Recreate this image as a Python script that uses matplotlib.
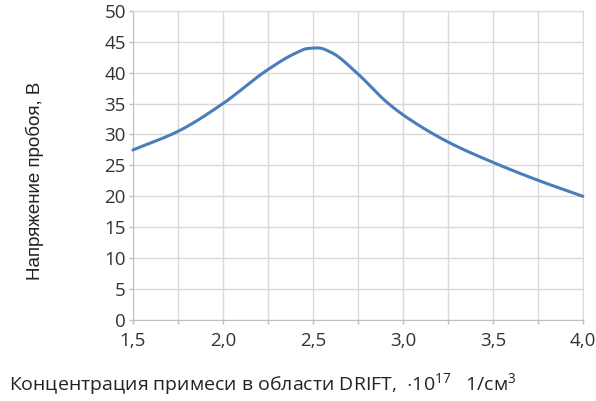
import matplotlib
matplotlib.use("Agg")
import matplotlib.pyplot as plt
from matplotlib.ticker import FuncFormatter, MultipleLocator
import numpy as np

conc = [1.5, 1.75, 2.0, 2.25, 2.4, 2.47, 2.53, 2.6, 2.75, 2.9, 3.0, 3.25, 3.5, 3.75, 4.0]
voltage = [27.5, 30.5, 35.0, 40.5, 43.1, 43.9, 44.0, 43.3, 39.8, 35.5, 33.2, 28.8, 25.5, 22.6, 20.0]
xticks = [1.5, 2.0, 2.5, 3.0, 3.5, 4.0]
yticks = list(range(0, 51, 5))

plt.rcParams['font.family'] = ['Open Sans', 'DejaVu Sans']
plt.rcParams['mathtext.fontset'] = 'custom'
plt.rcParams['mathtext.rm'] = 'Open Sans'
plt.rcParams['mathtext.it'] = 'Open Sans'

fig = plt.figure(figsize=(5.96, 4.01), dpi=100)
ax = fig.add_axes([0.223, 0.202, 0.755, 0.771])

xs = np.array(conc); ys = np.array(voltage)
def pchip(x, y, xn):
    h = np.diff(x); d = np.diff(y) / h
    m = np.zeros_like(y)
    for k in range(1, len(x) - 1):
        if d[k-1] * d[k] > 0:
            w1 = 2*h[k] + h[k-1]; w2 = h[k] + 2*h[k-1]
            m[k] = (w1 + w2) / (w1/d[k-1] + w2/d[k])
    m[0] = d[0]; m[-1] = d[-1]
    out = np.empty_like(xn)
    for i, xv in enumerate(xn):
        k = min(np.searchsorted(x, xv) - 1, len(x) - 2); k = max(k, 0)
        t = (xv - x[k]) / h[k]
        h00 = 2*t**3 - 3*t**2 + 1; h10 = t**3 - 2*t**2 + t
        h01 = -2*t**3 + 3*t**2; h11 = t**3 - t**2
        out[i] = h00*y[k] + h10*h[k]*m[k] + h01*y[k+1] + h11*h[k]*m[k+1]
    return out
xn = np.linspace(xs[0], xs[-1], 400)
ax.plot(xn, pchip(xs, ys, xn), color='#4a7ebb', lw=2.2, solid_capstyle='round', clip_on=False, zorder=3)

ax.set_xlim(1.5, 4.0)
ax.set_ylim(0, 50)
ax.set_xticks(xticks)
ax.xaxis.set_minor_locator(MultipleLocator(0.25))
ax.set_yticks(yticks)
ax.xaxis.set_major_formatter(FuncFormatter(lambda v, p: f"{v:.1f}".replace('.', ',')))
ax.grid(True, which='both', color='#d9d9d9', lw=1.0)
ax.set_axisbelow(True)
for s in ['top', 'right']:
    ax.spines[s].set_color('#d9d9d9')
for s in ['left', 'bottom']:
    ax.spines[s].set_color('#bfbfbf')
ax.tick_params(axis='both', which='both', colors='#bfbfbf', labelcolor='#333333', labelsize=13.5, length=3, width=1)
ax.tick_params(axis='x', pad=6)
ax.tick_params(axis='y', pad=2)

fig.text(0.059, 0.55, 'Напряжение пробоя, В', rotation=90, ha='center', va='center',
         fontsize=13.5, color='#222222', family=['Liberation Sans Narrow', 'Liberation Sans', 'DejaVu Sans'])
fig.text(0.015, 0.027, r'Концентрация примеси в области DRIFT,  $\cdot10^{17}$   1/см$^{3}$',
         ha='left', va='baseline', fontsize=14, color='#222222')

fig.savefig('out.png', dpi=100)
